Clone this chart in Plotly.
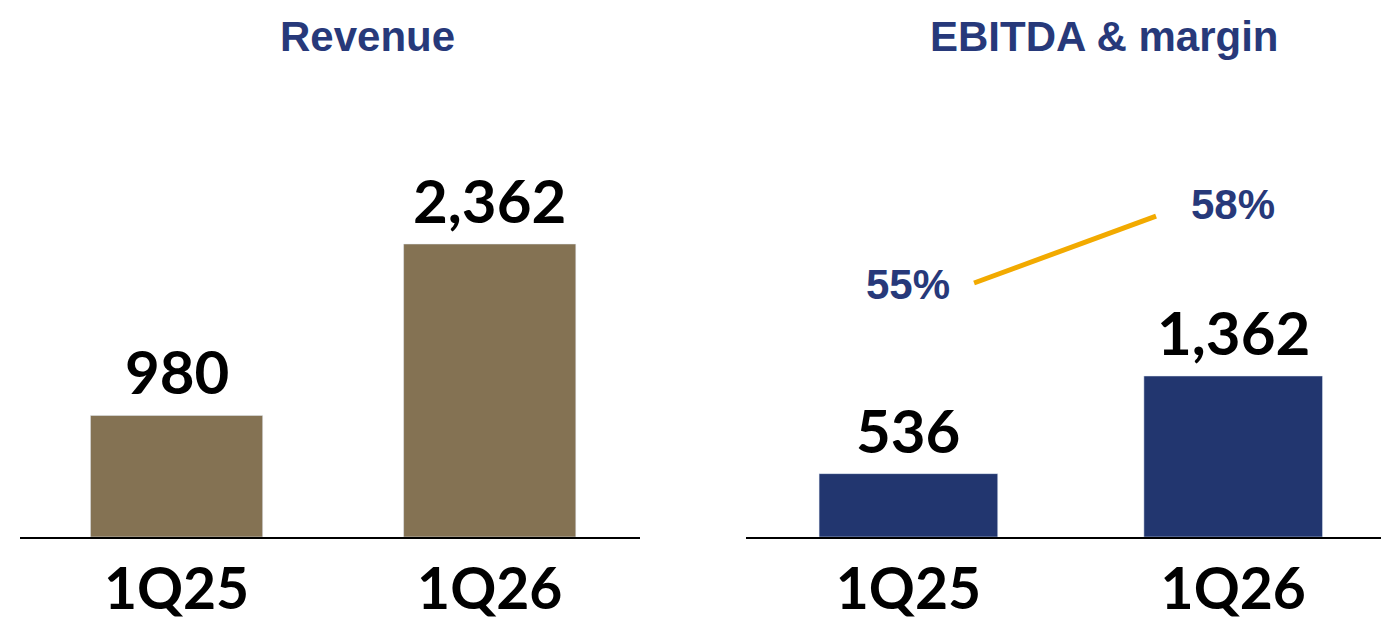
import plotly.graph_objects as go

# Quarterly figures
quarters = ["1Q25", "1Q26"]
revenue = [980, 2362]
ebitda = [536, 1362]
margin_pct = [55, 58]

W, H = 1381, 623
BROWN = "#847253"
NAVY = "#22366F"
TITLE_NAVY = "#27397A"
GOLD = "#F2AA00"

num_font = dict(family="Lato", size=60, color="black", weight=700)
pct_font = dict(family="Liberation Sans", size=42, color=TITLE_NAVY, weight=700)

fig = go.Figure()

fig.add_trace(go.Bar(
    x=quarters, y=revenue, marker_color=BROWN, width=0.55,
    xaxis="x", yaxis="y", showlegend=False,
))
fig.add_trace(go.Bar(
    x=quarters, y=ebitda, marker_color=NAVY, width=0.55,
    xaxis="x2", yaxis="y2", showlegend=False,
))
# EBITDA margin line
fig.add_trace(go.Scatter(
    x=quarters, y=margin_pct, mode="lines",
    line=dict(color=GOLD, width=5),
    xaxis="x3", yaxis="y3", showlegend=False, hoverinfo="skip",
))

base = 537
dom_y0 = (H - base) / H
left_dom = [20 / W, 640 / W]
right_dom = [746 / W, 1.0]

tick_font = dict(family="Lato", size=57, color="black", weight=700)
common_x = dict(type="category", showline=True, linecolor="black", linewidth=2,
                ticks="", showgrid=False, zeroline=False, tickfont=tick_font,
                ticklabelstandoff=2, automargin=False)

fig.update_layout(
    width=W, height=H,
    margin=dict(l=0, r=0, t=0, b=0),
    plot_bgcolor="white", paper_bgcolor="white",
    xaxis=dict(domain=left_dom, range=[-0.5, 1.48], anchor="y", **common_x),
    yaxis=dict(domain=[dom_y0, 1], range=[0, 4329], visible=False, anchor="x",
               automargin=False),
    xaxis2=dict(domain=right_dom, range=[-0.5, 1.455], anchor="y2", **common_x),
    yaxis2=dict(domain=[dom_y0, 1], range=[0, 4543], visible=False, anchor="x2",
                automargin=False),
    xaxis3=dict(domain=right_dom, type="category", range=[-1.253, 2.236],
                overlaying="x2", visible=False, anchor="y3"),
    yaxis3=dict(domain=[dom_y0, 1], range=[43.6, 67.7], overlaying="y2",
                visible=False, anchor="x3"),
)

# Value labels above the bars
for xr, yr, vals in [("x", "y", revenue), ("x2", "y2", ebitda)]:
    for q, v in zip(quarters, vals):
        fig.add_annotation(x=q, y=v, xref=xr, yref=yr, text=f"{v:,}",
                           showarrow=False, yanchor="bottom", yshift=6,
                           font=num_font)

# Panel titles
for label, xc in [("Revenue", 367 / W), ("EBITDA & margin", 1104 / W)]:
    fig.add_annotation(x=xc, y=(H - 36) / H, xref="paper", yref="paper",
                       xanchor="center", yanchor="middle",
                       text=label, showarrow=False,
                       font=dict(family="Liberation Sans", size=42,
                                 color=TITLE_NAVY, weight=700))

# Margin labels
for q, m, ys in zip(quarters, margin_pct, [-2, 12]):
    fig.add_annotation(x=q, y=m, xref="x2", yref="y3", text=f"{m}%",
                       showarrow=False, yshift=ys, font=pct_font)

fig.write_html("out.html")
